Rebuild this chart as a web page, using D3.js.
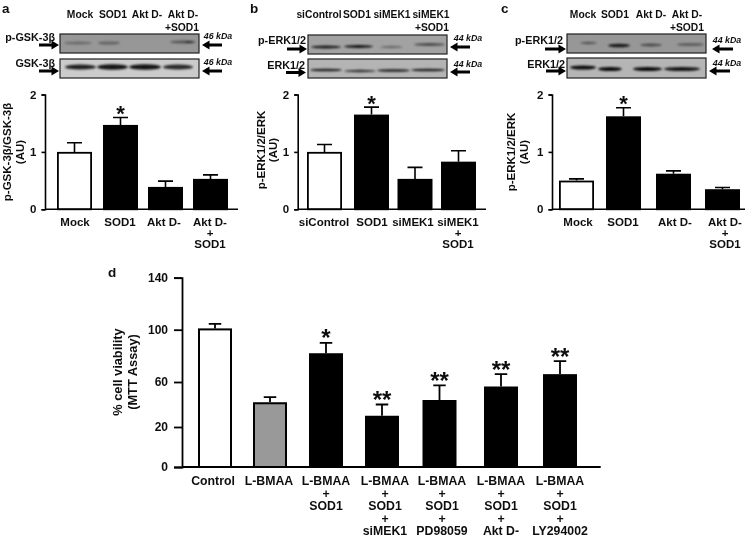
<!DOCTYPE html>
<html><head><meta charset="utf-8">
<script src="https://cdn.jsdelivr.net/npm/d3@7"></script>
<style>html,body{margin:0;padding:0;background:#fff}svg{display:block}text{font-family:"Liberation Sans",Arial,sans-serif;font-weight:bold;fill:#111}</style>
</head><body>
<script>
// ---- data ----
const aCats=["Mock","SOD1","Akt D-","Akt D-|+|SOD1"];
const aMeans=[1.0,1.47,0.39,0.53];
const aErrs=[0.16,0.13,0.10,0.07];
const aStars=["","*","",""];
const bCats=["siControl","SOD1","siMEK1","siMEK1|+|SOD1"];
const bMeans=[1.0,1.65,0.53,0.83];
const bErrs=[0.13,0.13,0.20,0.19];
const bStars=["","*","",""];
const cCats=["Mock","SOD1","Akt D-","Akt D-|+|SOD1"];
const cMeans=[0.5,1.62,0.62,0.35];
const cErrs=[0.03,0.15,0.05,0.03];
const cStars=["","*","",""];
const dCats=["Control","L-BMAA","L-BMAA|+|SOD1","L-BMAA|+|SOD1|+|siMEK1","L-BMAA|+|SOD1|+|PD98059","L-BMAA|+|SOD1|+|Akt D-","L-BMAA|+|SOD1|+|LY294002"];
const dMeans=[101,42,82,30,44,56,66];
const dErrs=[3.5,4.5,8,10,13,10,10];
const dStars=["","","*","**","**","**","**"];
const dFills=["#fff","#999","#000","#000","#000","#000","#000"];
const abcTicks=[0,1,2];
const dTicks=[0,20,60,100,140];

// ---- layout ----
const svg=d3.select("body").append("svg").attr("width",746).attr("height",537);
const defs=svg.append("defs");
defs.append("filter").attr("id","soft").attr("x","-5%").attr("y","-5%").attr("width","110%").attr("height","110%").append("feGaussianBlur").attr("stdDeviation",0.45);
defs.append("filter").attr("id","band").attr("x","-30%").attr("y","-200%").attr("width","160%").attr("height","500%").append("feGaussianBlur").attr("stdDeviation",1.2);
const root=svg.append("g").attr("filter","url(#soft)");

function txt(x,y,s,size,anchor,extra){
  const t=root.append("text").attr("x",x).attr("y",y).attr("dy",".35em").attr("font-size",size).attr("text-anchor",anchor||"middle").text(s);
  if(extra) extra(t);
  return t;
}
function rotTxt(x,y,s,size){
  root.append("text").attr("transform",`translate(${x},${y}) rotate(-90)`).attr("dy",".35em").attr("font-size",size).attr("text-anchor","middle").text(s);
}
function arrow(x0,x1,y){ // tail x0, tip x1
  const dir=x1>x0?1:-1, head=7.5;
  root.append("path").attr("fill","#000").attr("d",
    `M${x0},${y-1.5}L${x1-dir*head},${y-1.5}L${x1-dir*head},${y-4.5}L${x1},${y}L${x1-dir*head},${y+4.5}L${x1-dir*head},${y+1.5}L${x0},${y+1.5}Z`);
}

function chart(o){
  const g=root.append("g");
  const y=d3.scaleLinear().domain(o.yDomain).range(o.yRange);
  const x=d3.scaleOrdinal().domain(o.cats).range(o.centers);
  const lx=d3.scaleOrdinal().domain(o.cats).range(o.labelCenters||o.centers);
  const axL=d3.axisLeft(y).tickValues(o.ticks).tickSize(o.tick).tickPadding(o.pad).tickFormat(d3.format("d"));
  const sw=o.barStroke;
  g.selectAll("rect.bar").data(o.means).join("rect").attr("class","bar")
    .attr("x",(d,i)=>x(o.cats[i])-o.barW/2+sw/2).attr("width",o.barW-sw)
    .attr("y",d=>y(d)+sw/2).attr("height",d=>y(0)-y(d)-sw/2)
    .attr("fill",(d,i)=>o.fills?o.fills[i]:(i==0?"#fff":"#000")).attr("stroke","#000").attr("stroke-width",sw);
  g.selectAll("path.err").data(o.means).join("path").attr("class","err").attr("fill","none").attr("stroke","#000").attr("stroke-width",o.errStroke)
    .attr("d",(d,i)=>{const c=x(o.cats[i]),t=y(d+o.errs[i]);return `M${c},${y(d)}V${t}M${c-o.cap/2},${t}H${c+o.cap/2}`;});
  const a=g.append("g").attr("transform",`translate(${o.axisX},0)`).call(axL);
  a.select(".domain").attr("stroke","#000").attr("stroke-width",o.axisStroke);
  a.selectAll(".tick line").attr("stroke","#000").attr("stroke-width",o.axisStroke);
  a.selectAll(".tick text").attr("font-size",o.tickFont).style("font-family",'"Liberation Sans",Arial,sans-serif').style("font-weight","bold").attr("fill","#111");
  g.append("line").attr("x1",o.axisX).attr("x2",o.xEnd).attr("y1",y(0)).attr("y2",y(0)).attr("stroke","#000").attr("stroke-width",o.axisStroke);
  o.stars.forEach((s,i)=>{ if(!s) return;
    g.append("text").attr("x",x(o.cats[i])).attr("y",y(o.means[i]+o.errs[i])+o.starDy).attr("font-size",o.starFont).attr("text-anchor","middle").attr("fill","#000").text(s);
  });
  o.cats.forEach(c=>{
    c.split("|").forEach((ln,j)=>txt(lx(c),o.labelY+j*o.labelStep,ln,o.labelFont));
  });
}

function blot(b){
  root.append("rect").attr("x",b.x0).attr("y",b.y0).attr("width",b.x1-b.x0).attr("height",b.y1-b.y0).attr("fill",b.bg).attr("stroke","#222").attr("stroke-width",1.2);
  const clip="c"+b.x0+"_"+b.y0;
  defs.append("clipPath").attr("id",clip).append("rect").attr("x",b.x0).attr("y",b.y0).attr("width",b.x1-b.x0).attr("height",b.y1-b.y0);
  const g=root.append("g").attr("clip-path",`url(#${clip})`);
  g.selectAll("ellipse").data(b.bands).join("ellipse")
    .attr("cx",d=>(d[0]+d[1])/2).attr("rx",d=>(d[1]-d[0])/2).attr("cy",d=>d[2]).attr("ry",d=>d[3])
    .attr("fill","#000").attr("opacity",d=>d[4]).attr("filter","url(#band)");
}

// panel a
blot({x0:60,x1:199,y0:34,y1:53,bg:"#979797",bands:[[64,92,43,1.5,.3],[98,120,43,1.6,.35],[170,196,42,1.5,.45],[185,193,42,1,.4]]});
blot({x0:60,x1:199,y0:59,y1:78,bg:"#cbcbcb",bands:[[65,96,67,2.6,.85],[97,128,67,2.8,.9],[129,161,67,2.8,.9],[163,193,67,2.6,.8]]});
// panel b
blot({x0:308,x1:447,y0:35,y1:54,bg:"#a2a2a2",bands:[[311,341,47,1.4,.85],[344,373,46.5,1.5,.9],[380,403,47,1.2,.35],[414,445,44.5,1.4,.55]]});
blot({x0:308,x1:447,y0:59,y1:78,bg:"#b4b4b4",bands:[[310,342,70,1.3,.85],[344,376,71,1.2,.75],[377,410,70.5,1.3,.85],[411,445,70,1.3,.85]]});
// panel c
blot({x0:567,x1:706,y0:34,y1:53,bg:"#979797",bands:[[580,597,43,1.2,.45],[608,630,45.5,1.8,.85],[640,662,45,1.4,.5],[677,704,44.5,1.3,.45]]});
blot({x0:567,x1:706,y0:58,y1:78,bg:"#b5b5b5",bands:[[570,596,67.5,2,.95],[598,622,69,2.1,.95],[633,662,69,2,.95],[664,700,69,2,.9]]});

// arrows
[[39,59,45],[39,59,71],[222,202,45],[222,202,71],
 [287,307,49],[286,306,72.5],[470,450,47],[470,450,72],
 [545,566,49],[546,566,71],[733,712,49],[730,709,71]].forEach(a=>arrow(a[0],a[1],a[2]));

// blot labels
[[55,37,"p-GSK-3β"],[55,63,"GSK-3β"],[306,40,"p-ERK1/2"],[305,65,"ERK1/2"],[563,40,"p-ERK1/2"],[565,64,"ERK1/2"]]
  .forEach(d=>txt(d[0],d[1],d[2],10.8,"end"));
[[218,36,"46 kDa"],[218,62,"46 kDa"],[468,38,"44 kDa"],[468,64,"44 kDa"],[727,40,"44 kDa"],[727,63,"44 kDa"]]
  .forEach(d=>txt(d[0],d[1],d[2],8.8,"middle",t=>t.attr("font-style","italic")));
// lane labels
[[80,"Mock"],[113,"SOD1"],[147,"Akt D-"],[183,"Akt D-"],[319,"siControl"],[357,"SOD1"],[392,"siMEK1"],[431,"siMEK1"],[583,"Mock"],[615,"SOD1"],[651,"Akt D-"],[687,"Akt D-"]]
  .forEach(d=>txt(d[0],14.5,d[1],10.3));
[[182,"+SOD1"],[432,"+SOD1"],[687,"+SOD1"]].forEach(d=>txt(d[0],27,d[1],10.3));
// panel letters
[[2,8,"a"],[250,8,"b"],[501,8,"c"],[108,272,"d"]].forEach(d=>txt(d[0],d[1],d[2],13.5,"start"));

// charts
const small={yDomain:[0,2],yRange:[209.3,94.5],ticks:abcTicks,tick:3.5,pad:5,barW:35,cap:15,errStroke:1.6,axisStroke:1.6,barStroke:1.8,tickFont:11.5,labelFont:11.5,labelY:222,labelStep:11,starFont:22,starDy:3.5};
chart({...small,cats:aCats,means:aMeans,errs:aErrs,stars:aStars,centers:[74.5,120.5,165.5,210.5],labelCenters:[75,120,164,210],axisX:45,xEnd:238});
chart({...small,cats:bCats,means:bMeans,errs:bErrs,stars:bStars,centers:[324.5,371.5,415,458.5],labelCenters:[324,372,413,458],axisX:297.7,xEnd:486});
chart({...small,cats:cCats,means:cMeans,errs:cErrs,stars:cStars,centers:[576.5,623.5,673.5,722.5],labelCenters:[578,623,675,725],axisX:552,xEnd:745});
chart({yDomain:[0,20,60,100,140],yRange:[467,427,382,329.7,277.7],ticks:dTicks,tick:8,pad:6,barW:34,cap:12.5,errStroke:1.8,axisStroke:1.8,barStroke:2,tickFont:12,labelFont:12.3,labelY:481,labelStep:12.5,starFont:24,starDy:3.5,
  cats:dCats,means:dMeans,errs:dErrs,stars:dStars,fills:dFills,centers:[215,270,326,382,439.5,501,560],labelCenters:[213,269,326,385,442,501,560],axisX:182,xEnd:600.7});

// y titles
rotTxt(7,152,"p-GSK-3β/GSK-3β",11.5); rotTxt(20,152,"(AU)",11.5);
rotTxt(261,150,"p-ERK1/2/ERK",11.5); rotTxt(272.5,150,"(AU)",11.5);
rotTxt(511,152,"p-ERK1/2/ERK",11.5); rotTxt(524,152,"(AU)",11.5);
rotTxt(118,372,"% cell viability",12.8); rotTxt(133,372,"(MTT Assay)",12.8);
</script>
</body></html>
